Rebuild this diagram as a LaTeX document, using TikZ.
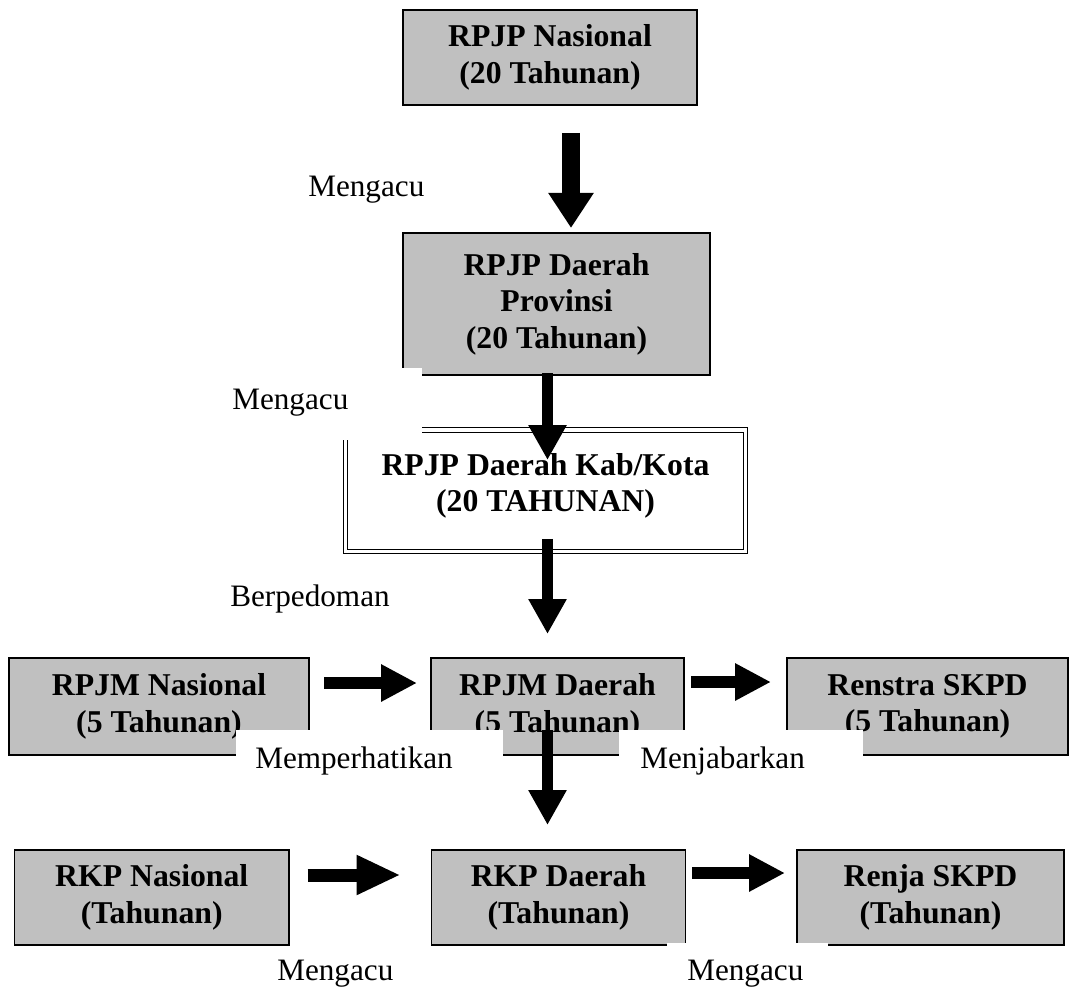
\documentclass[tikz,border=0pt]{standalone}
\usepackage{fontspec}
\setmainfont{Liberation Serif}
\usetikzlibrary{arrows.meta,calc}
\definecolor{boxgray}{RGB}{192,192,192}
\tikzset{
  box/.style={draw=black, fill=boxgray, line width=0.9pt, outer sep=0pt, inner sep=0pt,
    align=center, font=\fontsize{23.8}{27.4}\selectfont\bfseries},
  dbox/.style={draw=black, double=white, double distance=2.6pt, line width=0.85pt, outer sep=0pt, inner sep=0pt},
  boxtext/.style={align=center, inner sep=0pt, font=\fontsize{23.8}{27.4}\selectfont\bfseries},
  lbl/.style={inner sep=0pt, anchor=base west, font=\fontsize{23.4}{27}\selectfont},
  bigdown/.style={line width=13.5pt, -{Triangle[length=26.25pt, width=32.25pt]}},
  vdown/.style={line width=8.25pt, -{Triangle[length=26.25pt, width=27pt]}},
  hright/.style={line width=9pt, -{Triangle[length=27pt, width=26.25pt]}},
  hrightlong/.style={line width=9.75pt, -{Triangle[length=33pt, width=27.75pt]}},
  patch/.style={fill=white}
}
\begin{document}
\begin{tikzpicture}[x=0.75pt, y=-0.75pt]
\useasboundingbox (0,0) rectangle (1069,991);
% boxes
\node[box, minimum width=220.5pt, minimum height=71.25pt] (b1) at (550,57.5) {RPJP Nasional\\(20 Tahunan)};
\node[box, minimum width=230.25pt, minimum height=106.5pt] (b2) at (556.5,304) {RPJP Daerah\\Provinsi\\(20 Tahunan)};
\node[dbox, minimum width=300pt, minimum height=91.1pt] (b3) at (545.5,490.75) {};
\node[boxtext] (b3t) at ($(b3)+(0,-5)$) {RPJP Daerah Kab/Kota\\(20 TAHUNAN)};
\node[box, minimum width=225pt, minimum height=72.75pt] (b4) at (159,706.5) {RPJM Nasional\\(5 Tahunan)};
\node[box, minimum width=189.75pt, minimum height=72.75pt] (b5) at (557.5,706.5) {RPJM Daerah\\(5 Tahunan)};
\node[box, minimum width=210.75pt, minimum height=72.75pt] (b6) at (927.5,706.5) {Renstra SKPD\\(5 Tahunan)};
\node[box, minimum width=205.9pt, minimum height=71.25pt] (b7) at (151.75,897.5) {RKP Nasional\\(Tahunan)};
\node[box, minimum width=190.5pt, minimum height=71.25pt] (b8) at (558.5,897.5) {RKP Daerah\\(Tahunan)};
\node[box, minimum width=200.25pt, minimum height=71.25pt] (b9) at (930.5,897.5) {Renja SKPD\\(Tahunan)};
% white label patches
\fill[patch] (215,368) rectangle (422,440);
\fill[patch] (236,730) rectangle (503,795);
\fill[patch] (619,730) rectangle (863,795);
\fill[patch] (667,943.4) rectangle (828,991);
% labels
\node[lbl] (l1) at (308,196) {Mengacu};
\node[lbl] (l2) at (232,409) {Mengacu};
\node[lbl] (l3) at (230,606) {Berpedoman};
\node[lbl] (l4) at (255,768) {Memperhatikan};
\node[lbl] (l5) at (640,768) {Menjabarkan};
\node[lbl] (l6) at (277,980) {Mengacu};
\node[lbl] (l7) at (687,980) {Mengacu};
% arrows
\draw[bigdown] ($(b1.south)+(21,28)$) -- ($(b2.north)+(14.5,-5)$);
\draw[vdown] ($(b2.south)+(-9,-2)$) -- ($(b3.north)+(2,30)$);
\draw[vdown] ($(b3.south)+(2,-12.5)$) -- ($(b5.north)+(-10,-24)$);
\draw[vdown] ($(b5.south)+(-10,-25)$) -- ($(b8.north)+(-11,-25)$);
\draw[hright] ($(b4.east)+(15,-23.5)$) -- ($(b5.west)+(-14,-23.5)$);
\draw[hright] ($(b5.east)+(7,-24.5)$) -- ($(b6.west)+(-16,-24.5)$);
\draw[hrightlong] ($(b7.east)+(18.5,-22.5)$) -- ($(b8.west)+(-31,-22.5)$);
\draw[hright] ($(b8.east)+(6.5,-24.5)$) -- ($(b9.west)+(-12,-24.5)$);
\end{tikzpicture}
\end{document}
